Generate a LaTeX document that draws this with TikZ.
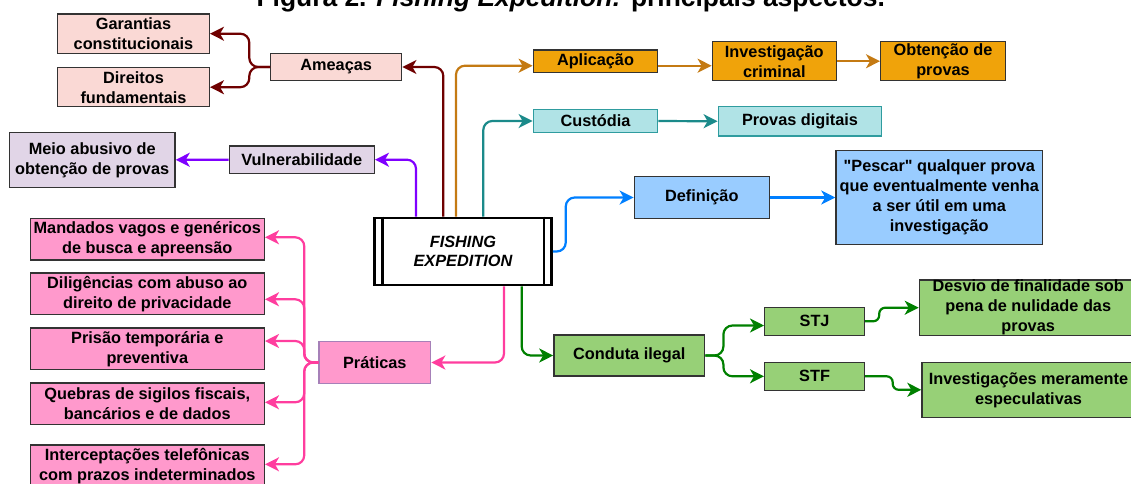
\documentclass[tikz,border=0pt]{standalone}
\usepackage{fontspec}
\setmainfont{Liberation Sans}[Ligatures=TeXOff]
\usetikzlibrary{arrows.meta,calc}
\definecolor{boxline}{HTML}{333333}
\definecolor{salmon}{HTML}{FAD9D5}
\definecolor{lav}{HTML}{E1D5E7}
\definecolor{orgfill}{HTML}{F0A30A}
\definecolor{tealfill}{HTML}{B0E3E6}
\definecolor{tealline}{HTML}{2F9C9F}
\definecolor{bluefill}{HTML}{99CCFF}
\definecolor{greenfill}{HTML}{97D077}
\definecolor{pinkfill}{HTML}{FF99CC}
\definecolor{pralline}{HTML}{A680B8}
\definecolor{cred}{HTML}{6F0000}
\definecolor{cpurple}{HTML}{7F00FF}
\definecolor{corange}{HTML}{C47A13}
\definecolor{cteal}{HTML}{1B8A8A}
\definecolor{cblue}{HTML}{007FFF}
\definecolor{cgreen}{HTML}{008000}
\definecolor{cpink}{HTML}{FF3D9E}
\begin{document}
\begin{tikzpicture}[x=1pt,y=-1pt,
  bx/.style={draw=boxline, line width=1.4pt, inner sep=0pt, align=center,
    font=\fontsize{16.3pt}{20pt}\selectfont\bfseries},
  conn/.style={line width=2.2pt, rounded corners=9pt,
    -{Stealth[length=14pt,width=14pt,inset=4pt]}},
  sconn/.style={conn, rounded corners=6pt},
]
\useasboundingbox (0,0) rectangle (1131,483);

% title
\node[anchor=base, inner sep=0pt, font=\fontsize{26.4pt}{30pt}\selectfont\bfseries] (title) at (570.7,6.5)
  {Figura 2. \textit{Fishing Expedition:} principais aspectos.};

% central node
\node[draw=black, line width=2.7pt, inner sep=0pt, minimum width=177pt, minimum height=66.9pt,
  align=center, font=\fontsize{16.3pt}{19pt}\selectfont\bfseries\itshape] (fish) at (462.9,251.5)
  {FISHING\\EXPEDITION};
\draw[line width=2.2pt] ([xshift=9.5pt]fish.north west) -- ([xshift=9.5pt]fish.south west);
\draw[line width=2.2pt] ([xshift=-9pt]fish.north east) -- ([xshift=-9pt]fish.south east);

% Ameacas branch
\node[bx, fill=salmon, minimum width=151.6pt, minimum height=39.3pt] (gar) at (133.5,33.7) {Garantias\\constitucionais};
\node[bx, fill=salmon, minimum width=151.6pt, minimum height=39pt] (dir) at (133.5,87.2) {Direitos\\fundamentais};
\node[bx, fill=salmon, minimum width=131pt, minimum height=27.4pt] (amea) at (336.2,67) {Amea\c{c}as};

% Vulnerabilidade branch
\node[bx, fill=lav, minimum width=165.7pt, minimum height=55pt] (meio) at (92.2,159.8) {Meio abusivo de\\obten\c{c}\~ao de provas};
\node[bx, fill=lav, minimum width=145pt, minimum height=27.3pt] (vuln) at (301.8,159.7) {Vulnerabilidade};

% Aplicacao branch
\node[bx, fill=orgfill, minimum width=124.4pt, minimum height=22.7pt] (apl) at (595.5,61.3) {Aplica\c{c}\~ao};
\node[bx, fill=orgfill, minimum width=124pt, minimum height=39pt] (inv) at (774.3,61.2) {Investiga\c{c}\~ao\\criminal};
\node[bx, fill=orgfill, minimum width=124.6pt, minimum height=39pt] (obt) at (943,61.2) {Obten\c{c}\~ao de\\provas};

% Custodia branch
\node[bx, draw=tealline, fill=tealfill, minimum width=124.4pt, minimum height=23.4pt] (cus) at (595.5,121) {Cust\'odia};
\node[bx, draw=tealline, fill=tealfill, minimum width=163.4pt, minimum height=29.3pt] (prov) at (800,121.3) {Provas digitais};

% Definicao branch
\node[bx, fill=bluefill, minimum width=135pt, minimum height=41.6pt] (def) at (701.8,197.5) {Defini\c{c}\~ao};
\node[bx, fill=bluefill, minimum width=206.7pt, minimum height=93.6pt] (pes) at (939.3,197.5)
  {"Pescar" qualquer prova\\que eventualmente venha\\a ser \'util em uma\\investiga\c{c}\~ao};

% Praticas branch
\node[bx, draw=pralline, fill=pinkfill, minimum width=111.7pt, minimum height=41.6pt] (pra) at (374.8,362.5) {Pr\'aticas};
\node[bx, fill=pinkfill, minimum width=234pt, minimum height=41.7pt] (man) at (147.3,239.2) {Mandados vagos e gen\'ericos\\de busca e apreens\~ao};
\node[bx, fill=pinkfill, minimum width=234pt, minimum height=41.7pt] (dil) at (147.3,293.7) {Dilig\^encias com abuso ao\\direito de privacidade};
\node[bx, fill=pinkfill, minimum width=234pt, minimum height=41.7pt] (pri) at (147.3,348.8) {Pris\~ao tempor\'aria e\\preventiva};
\node[bx, fill=pinkfill, minimum width=234pt, minimum height=41.7pt] (que) at (147.3,403.8) {Quebras de sigilos fiscais,\\banc\'arios e de dados};
\node[bx, fill=pinkfill, minimum width=234pt, minimum height=41.7pt] (int) at (147.3,465.8) {Intercepta\c{c}\~oes telef\^onicas\\com prazos indeterminados};

% Conduta branch
\node[bx, fill=greenfill, minimum width=150.8pt, minimum height=41pt] (con) at (629.3,355.5) {Conduta ilegal};
\node[bx, fill=greenfill, minimum width=99.8pt, minimum height=28pt] (stj) at (814.6,321.3) {STJ};
\node[bx, fill=greenfill, minimum width=99.8pt, minimum height=28pt] (stf) at (814.6,376.3) {STF};
\node[bx, fill=greenfill, minimum width=217.6pt, minimum height=55.3pt] (des) at (1028.2,307.7) {Desvio de finalidade sob\\pena de nulidade das\\provas};
\node[bx, fill=greenfill, minimum width=213pt, minimum height=55pt] (ivm) at (1028.5,389.8) {Investiga\c{c}\~oes meramente\\especulativas};

% connectors
\draw[conn, cred] (443.3,0 |- fish.north) |- (amea.east);
\draw[conn, cred] (amea.west) -- ++(-20.7,0) |- (gar.east);
\draw[conn, cred] (amea.west) -- ++(-20.7,0) |- (dir.east);

\draw[conn, cpurple] (416,0 |- fish.north) |- (vuln.east);
\draw[conn, cpurple] (vuln.west) -- (meio.east);

\draw[conn, corange] (456,0 |- fish.north) |- ([yshift=-4.4pt]apl.west);
\draw[conn, corange] ([yshift=-4.4pt]apl.east) -- ([yshift=-4.4pt]apl.east -| inv.west);
\draw[conn, corange] (inv.east) -- (obt.west);

\draw[conn, cteal] (483.3,0 |- fish.north) |- (cus.west);
\draw[conn, cteal] (cus.east) -- (prov.west);

\draw[conn, cblue] (fish.east) -- ++(13,0) |- (def.west);
\draw[conn, cblue] (def.east) -- (pes.west);

\draw[conn, cpink] (504,0 |- fish.south) |- (pra.east);
\draw[conn, cpink] (pra.west) -- ++(-14,0) |- ([yshift=1.9pt]man.east);
\draw[conn, cpink] (pra.west) -- ++(-14,0) |- ([yshift=-5.6pt]dil.east);
\draw[conn, cpink] (pra.west) -- ++(-14,0) |- ([yshift=7.8pt]pri.east);
\draw[conn, cpink] (pra.west) -- ++(-14,0) |- ([yshift=1.5pt]que.east);
\draw[conn, cpink] (pra.west) -- ++(-14,0) |- ([yshift=1.5pt]int.east);

\draw[conn, cgreen] (521.7,0 |- fish.south) |- (con.west);
\draw[conn, cgreen] (con.east) -- ++(18,0) |- ([yshift=-4.2pt]stj.west);
\draw[conn, cgreen] (con.east) -- ++(18,0) |- (stf.west);
\draw[sconn, cgreen] (stj.east) -- ++(14,0) |- (des.west);
\draw[sconn, cgreen] (stf.east) -- ++(27.5,0) |- (ivm.west);
\end{tikzpicture}
\end{document}
